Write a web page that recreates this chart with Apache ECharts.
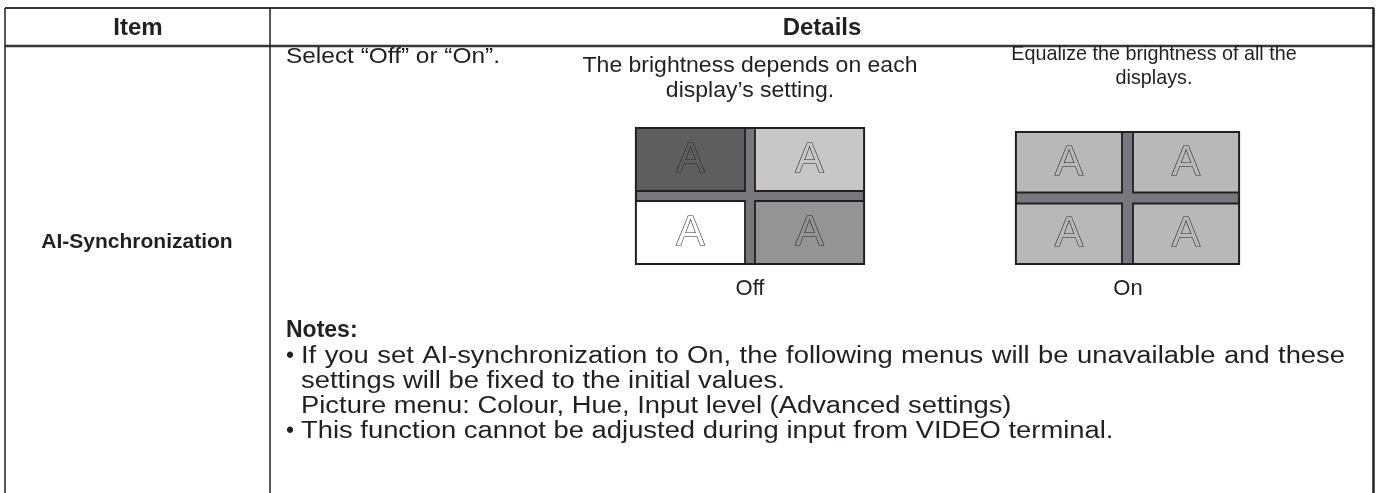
<!DOCTYPE html>
<html><head><meta charset="utf-8">
<script src="https://cdn.jsdelivr.net/npm/echarts@6/dist/echarts.min.js"></script>
<style>html,body{margin:0;padding:0;background:#fff}#c{width:1379px;height:493px}</style>
</head><body><div id="c"></div>
<script>
// ---- data ----
const columnHeaders = ['Item', 'Details'];
const itemName = 'AI-Synchronization';
const introText = 'Select “Off” or “On”.';
const modeLabels = ['Off', 'On'];
const offCaption = ['The brightness depends on each', 'display’s setting.'];
const onCaption = ['Equalize the brightness of all the', 'displays.'];
const paneCols = ['left', 'right'];
const paneRows = ['top', 'bottom'];
const paneGlyph = 'A';
// brightness (% grey) of each display: top-left, top-right, bottom-left, bottom-right
const offBrightness = [37, 78, 100, 58];
const onBrightness = [72, 72, 72, 72];
const notesTitle = 'Notes:';
const noteBullet1 = ['If you set AI-synchronization to On, the following menus will be unavailable and these',
                     'settings will be fixed to the initial values.',
                     'Picture menu: Colour, Hue, Input level (Advanced settings)'];
const noteBullet2 = ['This function cannot be adjusted during input from VIDEO terminal.'];

// ---- styles ----
const INK = '#231f20';
const FONT = '"Liberation Sans", Arial, Helvetica, sans-serif';
const GAP = '#77787b';

function grey(p) { const v = Math.round(p * 2.55); return 'rgb(' + v + ',' + v + ',' + v + ')'; }
function toCells(arr) { return arr.map((b, i) => [i % 2, Math.floor(i / 2), b]); }

const mctx = document.createElement('canvas').getContext('2d');
function measure(t, size, bold) { mctx.font = (bold ? 'bold ' : '') + size + 'px ' + FONT; return mctx.measureText(t).width; }

const g = [];
function txt(t, x, y, size, opts) {
  opts = opts || {};
  g.push({ type: 'text', x: x, y: y, silent: true, scaleX: opts.sx || 1, scaleY: 1,
    style: { text: t, fill: INK, fontSize: size, fontFamily: FONT,
      fontWeight: opts.bold ? 'bold' : 'normal', textAlign: opts.align || 'left',
      textVerticalAlign: 'middle', align: opts.align || 'left', verticalAlign: 'middle' } });
}
function line(x1, y1, x2, y2, w, c) {
  g.push({ type: 'line', silent: true, shape: { x1: x1, y1: y1, x2: x2, y2: y2 },
    style: { stroke: c || INK, lineWidth: w } });
}
// table rules
line(5, 8, 1374, 8, 2, '#3a3638');
line(5, 46, 1374, 46, 2.5, '#3a3638');
line(5, 8, 5, 493, 1.5);
line(270, 8, 270, 493, 1.5);
line(1373.5, 8, 1373.5, 493, 2.5);

// headers
txt(columnHeaders[0], 138, 28, 24, { bold: true, align: 'center' });
txt(columnHeaders[1], 822, 28, 24, { bold: true, align: 'center' });
txt(itemName, 137, 242, 21, { bold: true, align: 'center' });
txt(introText, 286, 57, 22, { sx: 1.11 });
txt(offCaption[0], 750, 66, 22, { align: 'center', sx: 1.045 });
txt(offCaption[1], 750, 91, 22, { align: 'center', sx: 1.045 });
txt(onCaption[0], 1154, 54, 21, { align: 'center', sx: 0.94 });
txt(onCaption[1], 1154, 78, 21, { align: 'center', sx: 0.94 });
txt(modeLabels[0], 750, 289, 22, { align: 'center' });
txt(modeLabels[1], 1128, 289, 22, { align: 'center' });

// notes
const NOTE = 23, NSX = 1.19;
txt(notesTitle, 286, 331, 23, { bold: true });
const rowsY = [357, 382, 407, 432];
txt('•', 286, rowsY[0], NOTE);
// justified first line
(function () {
  const words = noteBullet1[0].split(' ');
  const x0 = 301, x1 = 1345;
  const ws = words.map(w => measure(w, NOTE) * NSX);
  const sum = ws.reduce((a, b) => a + b, 0);
  const gap = (x1 - x0 - sum) / (words.length - 1);
  let x = x0;
  words.forEach((w, i) => { txt(w, x, rowsY[0], NOTE, { sx: NSX }); x += ws[i] + gap; });
})();
txt(noteBullet1[1], 301, rowsY[1], NOTE, { sx: NSX });
txt(noteBullet1[2], 301, rowsY[2], NOTE, { sx: NSX });
txt('•', 286, rowsY[3], NOTE);
txt(noteBullet2[0], 301, rowsY[3], NOTE, { sx: NSX });

// ---- display panes via custom series ----
function renderPane(gapPx) {
  return function (params, api) {
    const col = api.value(0), row = api.value(1), b = api.value(2);
    const c = api.coord([col, row]);
    const s = api.size([1, 1]);
    let x0 = c[0] - s[0] / 2, x1 = c[0] + s[0] / 2, y0 = c[1] - s[1] / 2, y1 = c[1] + s[1] / 2;
    if (col === 0) x1 -= gapPx / 2; else x0 += gapPx / 2;
    if (row === 0) y1 -= gapPx / 2; else y0 += gapPx / 2;
    const fill = grey(b);
    return { type: 'group', children: [
      { type: 'rect', shape: { x: x0, y: y0, width: x1 - x0, height: y1 - y0 },
        style: { fill: fill, stroke: INK, lineWidth: 1.8 } },
      { type: 'text', x: (x0 + x1) / 2, y: (y0 + y1) / 2 + 1,
        style: { text: paneGlyph, fontSize: 42, fontFamily: FONT, fill: fill,
          stroke: '#2e2e30', lineWidth: 1.2, align: 'center', verticalAlign: 'middle',
          textAlign: 'center', textVerticalAlign: 'middle' } }
    ] };
  };
}

const gridBase = { show: true, backgroundColor: GAP, borderColor: INK, borderWidth: 2.2 };
const axisHidden = { show: false };
const option = {
  animation: false,
  grid: [
    Object.assign({ left: 636, top: 128, width: 228, height: 136 }, gridBase),
    Object.assign({ left: 1016, top: 132, width: 223, height: 132 }, gridBase)
  ],
  xAxis: [
    Object.assign({ type: 'category', data: paneCols, gridIndex: 0 }, axisHidden),
    Object.assign({ type: 'category', data: paneCols, gridIndex: 1 }, axisHidden)
  ],
  yAxis: [
    Object.assign({ type: 'category', data: paneRows, gridIndex: 0, inverse: true }, axisHidden),
    Object.assign({ type: 'category', data: paneRows, gridIndex: 1, inverse: true }, axisHidden)
  ],
  series: [
    { type: 'custom', name: modeLabels[0], xAxisIndex: 0, yAxisIndex: 0, silent: true,
      renderItem: renderPane(10), data: toCells(offBrightness), encode: { x: 0, y: 1 } },
    { type: 'custom', name: modeLabels[1], xAxisIndex: 1, yAxisIndex: 1, silent: true,
      renderItem: renderPane(11), data: toCells(onBrightness), encode: { x: 0, y: 1 } }
  ],
  graphic: g
};
const chart = echarts.init(document.getElementById('c'), null, { renderer: 'canvas' });
chart.setOption(option);
</script></body></html>
